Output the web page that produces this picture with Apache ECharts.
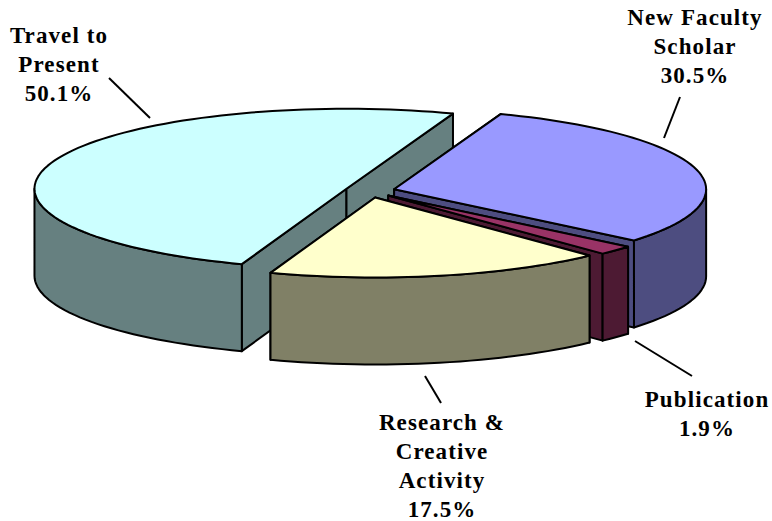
<!DOCTYPE html>
<html><head><meta charset="utf-8">
<style>
html,body{margin:0;padding:0;background:#fff}
#main{width:772px;height:521px}
#main text{letter-spacing:1.1px}
</style>
<script src="https://cdn.jsdelivr.net/npm/echarts@6/dist/echarts.min.js"></script>
</head><body><div id="main"></div>
<script>
const sliceNames = ['Travel to\nPresent', 'New Faculty\nScholar', 'Publication', 'Research &\nCreative\nActivity'];
const sliceValues = [50.1, 30.5, 1.9, 17.5];

const topColors = ['#CCFFFF', '#9999FF', '#993366', '#FFFFCC'];
const wallColors = ['#668080', '#4D4D80', '#4D1A33', '#808066'];
const geom = {cx: 370, cy: 191, a: 312, b: 80, depth: 87, explodeX: 25, explodeY: 6.6, startDeg: 250.4};
const labelBoxes = [[59, 64], [695, 46], [707, 414], [442, 466]];
const leaders = [[[109, 78], [150, 118]], [[664, 138], [680, 97]], [[635, 341], [692, 376]], [[425, 376], [441, 403]]];
const fontCss = 'bold 23px "Liberation Serif"';

const total = sliceValues.reduce((s, v) => s + v, 0);
const rad = d => d * Math.PI / 180;

function renderSlice(params, api) {
  const i = params.dataIndex;
  let before = 0;
  for (let k = 0; k < i; k++) before += sliceValues[k];
  const t1 = geom.startDeg - before / total * 360;
  const t2 = t1 - api.value(0) / total * 360;
  const mid = (t1 + t2) / 2;
  const ox = geom.cx + geom.explodeX * Math.cos(rad(mid));
  const oy = geom.cy - geom.explodeY * Math.sin(rad(mid));
  const pt = (t, dz) => [ox + geom.a * Math.cos(rad(t)), oy - geom.b * Math.sin(rad(t)) + (dz || 0)];
  const arc = (from, to, dz) => {
    const out = [], n = Math.max(2, Math.ceil(Math.abs(from - to) / 2));
    for (let j = 0; j <= n; j++) out.push(pt(from + (to - from) * j / n, dz));
    return out;
  };
  const kids = [];
  const poly = (points, fill) => kids.push({type: 'polygon', shape: {points},
    style: {fill, stroke: '#000', lineWidth: 2, lineJoin: 'round'}});
  [t1, t2].forEach(t => {
    const e = pt(t);
    poly([[ox, oy], e, [e[0], e[1] + geom.depth], [ox, oy + geom.depth]], wallColors[i]);
  });
  [[180, 360], [-180, 0]].forEach(([lo, hi]) => {
    const from = Math.min(t1, hi), to = Math.max(t2, lo);
    if (from > to) poly(arc(from, to, 0).concat(arc(to, from, geom.depth)), wallColors[i]);
  });
  poly([[ox, oy]].concat(arc(t1, t2, 0)), topColors[i]);
  return {type: 'group', children: kids};
}

function renderLabel(params, api) {
  const i = params.dataIndex;
  const box = labelBoxes[i];
  return {type: 'group', children: [
    {type: 'line', shape: {x1: leaders[i][0][0], y1: leaders[i][0][1], x2: leaders[i][1][0], y2: leaders[i][1][1]},
      style: {stroke: '#000', lineWidth: 2}},
    {type: 'text', x: box[0], y: box[1],
      style: {text: sliceNames[i] + '\n' + api.value(0).toFixed(1) + '%', font: fontCss, fill: '#000',
        align: 'center', verticalAlign: 'middle', lineHeight: 29}}
  ]};
}

const chart = echarts.init(document.getElementById('main'), null, {renderer: 'svg'});
chart.setOption({
  animation: false,
  backgroundColor: '#fff',
  series: [
    {type: 'custom', coordinateSystem: 'none', silent: true, renderItem: renderSlice, data: sliceValues.map(v => [v])},
    {type: 'custom', coordinateSystem: 'none', silent: true, renderItem: renderLabel, data: sliceValues.map(v => [v])}
  ]
});
</script></body></html>
